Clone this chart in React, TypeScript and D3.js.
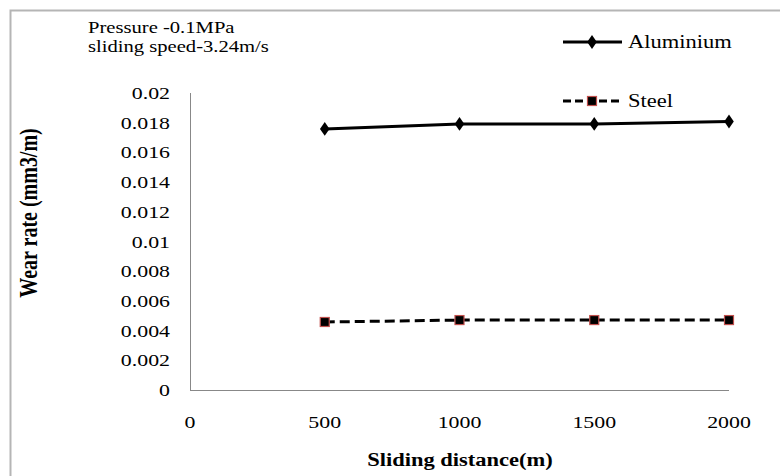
import * as d3 from "d3";
import React, { useEffect, useRef } from "react";

// sliding distance (m)
const distances = [500, 1000, 1500, 2000];
// wear rate (mm3/m)
const aluminium = [0.01758, 0.01792, 0.01792, 0.01808];
const steel = [0.00458, 0.00471, 0.00471, 0.00471];
const xTicks = [0, 500, 1000, 1500, 2000];
const yTicks = [0, 0.002, 0.004, 0.006, 0.008, 0.01, 0.012, 0.014, 0.016, 0.018, 0.02];

// the source picture is stretched sideways, so text gets a horizontal scale
const SX = 1.25;
const FONT = "Liberation Serif";

const App = () => {
  const svgRef = useRef<SVGSVGElement>(null);

  useEffect(() => {
    const svg = d3.select(svgRef.current);
    svg.selectAll("*").remove();

    svg.attr("width", 780).attr("height", 476);

    svg.append("rect").attr("width", 780).attr("height", 476).attr("fill", "#fff");

    const txt = (px: number, py: number, s: string, size: number, anchor = "start", bold = false) =>
      svg.append("text")
        .attr("transform", `translate(${px},${py}) scale(${SX},1)`)
        .attr("text-anchor", anchor)
        .attr("font-family", FONT)
        .attr("font-size", size)
        .attr("font-weight", bold ? "bold" : "normal")
        .attr("fill", "#000")
        .text(s);

    // outer chart frame (runs off the right and bottom edges)
    svg.append("rect")
      .attr("x", 10.5).attr("y", 10.5)
      .attr("width", 800).attr("height", 500)
      .attr("fill", "none").attr("stroke", "#b5b5b5").attr("stroke-width", 2);

    const x = d3.scaleLinear().domain([0, 2000]).range([190, 729]);
    const y = d3.scaleLinear().domain([0, 0.02]).range([390, 93]);

    // axes
    svg.append("line")
      .attr("x1", x(0)).attr("x2", x(2000))
      .attr("y1", y(0) + 0.5).attr("y2", y(0) + 0.5)
      .attr("stroke", "#888").attr("stroke-width", 1);
    svg.append("line")
      .attr("x1", x(0) + 0.5).attr("x2", x(0) + 0.5)
      .attr("y1", y(0.02)).attr("y2", y(0))
      .attr("stroke", "#888").attr("stroke-width", 1);

    yTicks.forEach((d) => txt(170, y(d) + 6, String(+d.toFixed(3)), 17.5, "end"));
    xTicks.forEach((d) => txt(x(d), 428, String(d), 17.5, "middle"));

    // titles
    txt(460, 466, "Sliding distance(m)", 18, "middle", true);
    svg.append("text")
      .attr("transform", `translate(37,213) scale(${SX},1) rotate(-90)`)
      .attr("text-anchor", "middle")
      .attr("font-family", FONT)
      .attr("font-size", 20).attr("font-weight", "bold").attr("fill", "#000")
      .text("Wear rate (mm3/m)");

    txt(88, 33, "Pressure -0.1MPa", 16.5);
    txt(88, 52, "sliding speed-3.24m/s", 16.5);

    const line = d3.line<number>().x((_, i) => x(distances[i])).y((d) => y(d));
    const diamond = d3.symbol().type(d3.symbolDiamond).size(55);

    // aluminium
    svg.append("path").attr("d", line(aluminium)).attr("fill", "none")
      .attr("stroke", "#000").attr("stroke-width", 3);
    svg.append("g").selectAll("path").data(aluminium).join("path")
      .attr("d", diamond)
      .attr("transform", (d, i) => `translate(${x(distances[i])},${y(d)}) scale(1.2,1)`)
      .attr("fill", "#000");

    // steel
    svg.append("path").attr("d", line(steel)).attr("fill", "none")
      .attr("stroke", "#000").attr("stroke-width", 3).attr("stroke-dasharray", "10,5");
    svg.append("g").selectAll("rect").data(steel).join("rect")
      .attr("x", (d, i) => x(distances[i]) - 4.5).attr("y", (d) => y(d) - 4.5)
      .attr("width", 9).attr("height", 9)
      .attr("fill", "#000").attr("stroke", "#c0504d").attr("stroke-width", 1.2);

    // legend
    svg.append("line").attr("x1", 563).attr("x2", 622).attr("y1", 42).attr("y2", 42)
      .attr("stroke", "#000").attr("stroke-width", 3);
    svg.append("path").attr("d", diamond).attr("transform", "translate(592,42) scale(1.2,1)").attr("fill", "#000");
    txt(628, 48, "Aluminium", 18);

    svg.append("line").attr("x1", 563).attr("x2", 622).attr("y1", 101).attr("y2", 101)
      .attr("stroke", "#000").attr("stroke-width", 3).attr("stroke-dasharray", "8,4");
    svg.append("rect").attr("x", 587.5).attr("y", 96.5).attr("width", 9).attr("height", 9)
      .attr("fill", "#000").attr("stroke", "#c0504d").attr("stroke-width", 1.2);
    txt(628, 107, "Steel", 18);
  }, []);

  return <svg ref={svgRef} style={{ position: "absolute", left: 0, top: 0 }}></svg>;
};

export default App;
